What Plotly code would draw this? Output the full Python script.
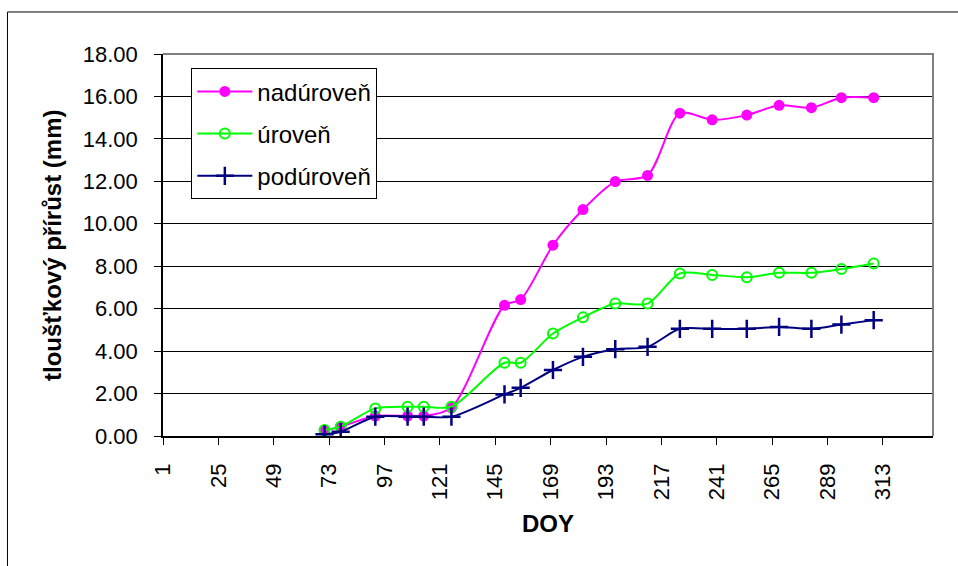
import plotly.graph_objects as go

doy = [71, 78, 93, 107, 114, 126, 149, 156, 170, 183, 197, 211, 225, 239, 254, 268, 282, 295, 309]
nadurovne = [0.25, 0.44, 0.94, 0.94, 0.94, 1.33, 6.16, 6.43, 8.99, 10.67, 11.99, 12.28,
             15.21, 14.90, 15.12, 15.58, 15.47, 15.94, 15.94]
urovne = [0.28, 0.44, 1.30, 1.38, 1.38, 1.38, 3.45, 3.45, 4.83, 5.59, 6.24, 6.24,
          7.66, 7.59, 7.48, 7.69, 7.69, 7.87, 8.13]
podurovne = [0.08, 0.20, 0.91, 0.91, 0.91, 0.91, 1.96, 2.27, 3.11, 3.73, 4.09, 4.20,
             5.05, 5.05, 5.05, 5.14, 5.05, 5.25, 5.46]

x_ticks = [1, 25, 49, 73, 97, 121, 145, 169, 193, 217, 241, 265, 289, 313]
series_names = ["nadúroveň", "úroveň", "podúroveň"]

FONT = "Liberation Sans, Arial, sans-serif"

fig = go.Figure()
fig.add_trace(go.Scatter(
    x=doy, y=nadurovne, name=series_names[0], mode="lines+markers", legendgroup="a",
    line=dict(color="#FF00FF", width=2, shape="spline", smoothing=0.8),
    marker=dict(symbol="circle", size=11, color="#FF00FF"),
))
fig.add_trace(go.Scatter(
    x=doy, y=urovne, name=series_names[1], mode="lines+markers", legendgroup="b",
    line=dict(color="#00FF00", width=2, shape="spline", smoothing=0.8),
    marker=dict(symbol="circle-open", size=10, color="#00FF00", line=dict(width=2, color="#00FF00")),
))
fig.add_trace(go.Scatter(
    x=doy, y=podurovne, name=series_names[2], mode="lines+markers", legendgroup="c",
    line=dict(color="#000080", width=2, shape="spline", smoothing=0.8),
    marker=dict(symbol="cross-thin-open", size=13, color="#000080", line=dict(width=2.5, color="#000080")),
))

fig.update_layout(
    width=958, height=566,
    margin=dict(l=163, r=25, t=54, b=130),
    paper_bgcolor="white", plot_bgcolor="white",
    font=dict(family=FONT, size=22, color="black"),
    showlegend=True,
    legend=dict(
        x=0.0368, y=0.9626, xanchor="left", yanchor="top",
        bgcolor="white", bordercolor="black", borderwidth=1,
        font=dict(family=FONT, size=24, color="black"),
        itemwidth=55, tracegroupgap=8,
    ),
    xaxis=dict(
        range=[1, 334.7], tickmode="array", tickvals=x_ticks,
        ticktext=[str(v) for v in x_ticks], tickangle=-90,
        ticks="outside", ticklen=7, tickcolor="black", tickwidth=1,
        showline=True, linecolor="black", linewidth=1.5,
        showgrid=False, zeroline=False, ticklabelstandoff=10,
        tickfont=dict(family=FONT, size=22, color="black"),
    ),
    yaxis=dict(
        range=[0, 18], dtick=2, tickformat=".2f",
        ticks="outside", ticklen=7, tickcolor="black", tickwidth=1,
        showline=True, linecolor="black", linewidth=1.5,
        showgrid=True, gridcolor="black", gridwidth=1,
        zeroline=False, ticklabelstandoff=12,
        tickfont=dict(family=FONT, size=22, color="black"),
    ),
    shapes=[
        dict(type="path", xref="paper", yref="paper", path="M0,1 L1,1 L1,0",
             line=dict(color="#808080", width=2), layer="above"),
        dict(type="rect", xref="paper", yref="paper", x0=-0.202, x1=1.06, y0=-0.45, y1=1.110,
             line=dict(color="black", width=1), layer="below"),
    ],
    annotations=[
        dict(text="<b>tloušťkový přírůst (mm)</b>", xref="paper", yref="paper",
             x=(52 - 163) / 770, y=0.5, xanchor="center", yanchor="middle",
             textangle=-90, showarrow=False, font=dict(family=FONT, size=24, color="black")),
        dict(text="<b>DOY</b>", xref="paper", yref="paper",
             x=0.5, y=(436 - 523) / 382, xanchor="center", yanchor="middle",
             showarrow=False, font=dict(family=FONT, size=24, color="black")),
    ],
)

fig.write_html("out.html")
